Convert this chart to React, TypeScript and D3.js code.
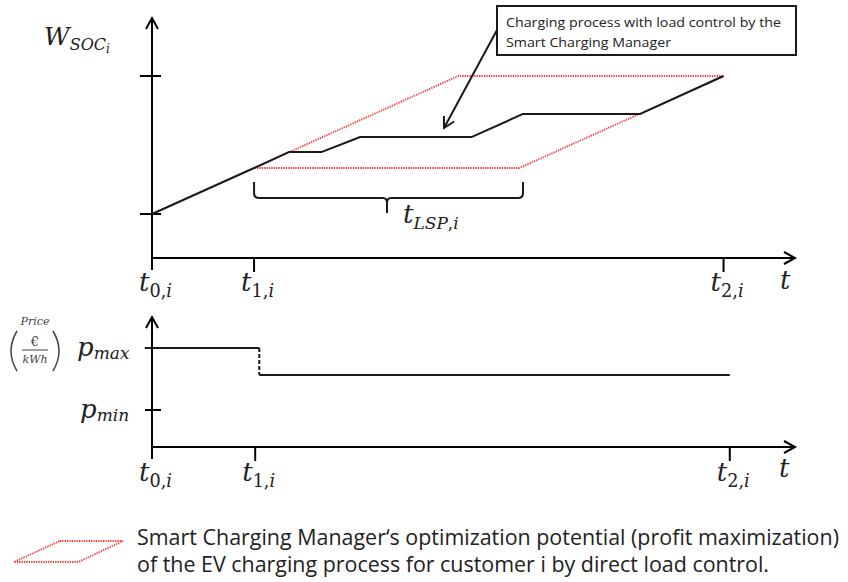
import React, { useEffect, useRef } from 'react';
import * as d3 from 'd3';

// time in hours, state of charge in %
const chargeTime = [0, 2, 2.69, 3.33, 4.08, 6.27, 7.27, 9.57, 11.2];
const chargeSoc = [20, 40, 47, 47, 53.5, 53.5, 63.5, 63.5, 80];

// optimization potential (parallelogram)
const potTime = [2, 6, 11.2, 7.2, 2];
const potSoc = [40, 80, 80, 40, 40];

const socTicks = [20, 80];
const timeTicks = [0, 2, 11.2];
const timeTickLabels = ['0,', '1,', '2,'];

// price in €/kWh
const priceHighTime = [-0.14, 2.08];
const priceHigh = [0.3, 0.3];
const priceLowTime = [2.08, 11.2];
const priceLow = [0.213, 0.213];
const priceTicks = [0.1, 0.3];

const legendLines = [
  'Smart Charging Manager‘s optimization potential (profit maximization)',
  'of the EV charging process for customer i by direct load control.',
];
const calloutLines = ['Charging process with load control by the', 'Smart Charging Manager'];

const MATH = '"DejaVu Serif", serif';
const SANS = '"Open Sans", sans-serif';
const RED = '#ff3030';

export default function App() {
  const svgRef = useRef<SVGSVGElement>(null);

  useEffect(() => {
    if (!svgRef.current) return;
    const svg = d3.select(svgRef.current);
    svg.selectAll('*').remove();

    const xTop = d3.scaleLinear().domain([0, 12.6]).range([152, 795]);
    const yTop = d3.scaleLinear().domain([0, 100]).range([260, 30]);
    const xBot = d3.scaleLinear().domain([0, 12.6]).range([152, 802]);
    const yBot = d3.scaleLinear().domain([0.1, 0.3]).range([410, 348]);

    const axisTopY = 258;
    const axisBotY = 447;

    const g = svg.append('g');

    const arrowHead = (x: number, y: number, dir: 'up' | 'right') => {
      const p = dir === 'up'
        ? `M${x - 6},${y + 11}L${x},${y}L${x + 6},${y + 11}`
        : `M${x - 11},${y - 6}L${x},${y}L${x - 11},${y + 6}`;
      g.append('path').attr('d', p).attr('fill', 'none').attr('stroke', '#000')
        .attr('stroke-width', 2);
    };

    const mathLabel = (x: number, y: number, main: string, sub: string, size = 26) => {
      const t = g.append('text').attr('x', x).attr('y', y)
        .attr('font-family', MATH).attr('font-size', size).attr('fill', '#222');
      t.append('tspan').attr('font-style', 'italic').text(main);
      if (sub) {
        const digits = sub.replace(/[a-z]+$/, '');
        const rest = sub.slice(digits.length);
        t.append('tspan').attr('dy', 6).attr('font-size', size * 0.68).text(digits);
        t.append('tspan').attr('font-size', size * 0.68).attr('font-style', 'italic').text(rest);
      }
      return t;
    };

    // ---------- upper chart ----------
    g.append('line').attr('x1', 152).attr('x2', 152).attr('y1', 18).attr('y2', axisTopY + 12)
      .attr('stroke', '#000').attr('stroke-width', 2);
    arrowHead(152, 18, 'up');
    g.append('line').attr('x1', 152).attr('x2', 795).attr('y1', axisTopY).attr('y2', axisTopY)
      .attr('stroke', '#000').attr('stroke-width', 2);
    arrowHead(795, axisTopY, 'right');

    socTicks.forEach(v => {
      g.append('line').attr('x1', 140).attr('x2', 161).attr('y1', yTop(v)).attr('y2', yTop(v))
        .attr('stroke', '#000').attr('stroke-width', 2);
    });
    timeTicks.slice(1).forEach(v => {
      g.append('line').attr('x1', xTop(v)).attr('x2', xTop(v)).attr('y1', axisTopY).attr('y2', axisTopY + 14)
        .attr('stroke', '#000').attr('stroke-width', 2);
    });
    timeTicks.forEach((v, i) => {
      mathLabel(xTop(v) - 13, 291, 't', timeTickLabels[i] + 'i');
    });
    mathLabel(780, 289, 't', '');

    // W_SOC_i label
    const w = g.append('text').attr('x', 44).attr('y', 45).attr('font-family', MATH)
      .attr('font-size', 25).attr('fill', '#222').attr('font-style', 'italic');
    w.append('tspan').text('W');
    w.append('tspan').attr('dy', 5).attr('font-size', 16).text('SOC');
    w.append('tspan').attr('dy', 3).attr('font-size', 12).text('i');

    const pts = (ts: number[], vs: number[]) => ts.map((t, i) => [t, vs[i]] as [number, number]);
    const lineTop = d3.line<[number, number]>().x(d => xTop(d[0])).y(d => yTop(d[1]));

    g.append('path').attr('d', lineTop(pts(potTime, potSoc)) as string).attr('fill', 'none')
      .attr('stroke', RED).attr('stroke-width', 1.8).attr('stroke-dasharray', '1.3,1.1');

    g.append('path').attr('d', lineTop(pts(chargeTime, chargeSoc)) as string).attr('fill', 'none')
      .attr('stroke', '#1a1a1a').attr('stroke-width', 2).attr('stroke-linejoin', 'round');

    // brace under parallelogram
    const bx0 = xTop(2), bx1 = xTop(7.27), bmid = 387;
    g.append('path')
      .attr('d', `M${bx0},182 V193 Q${bx0},198 ${bx0 + 5},198 H${bmid - 4} Q${bmid},198 ${bmid},203 V213 M${bmid},203 Q${bmid},198 ${bmid + 4},198 H${bx1 - 5} Q${bx1},198 ${bx1},193 V182`)
      .attr('fill', 'none').attr('stroke', '#1a1a1a').attr('stroke-width', 2);
    mathLabel(403, 223, 't', '').call(t => {
      t.append('tspan').attr('dy', 6).attr('font-size', 17).attr('font-style', 'italic').text('LSP');
      t.append('tspan').attr('font-size', 17).text(',');
      t.append('tspan').attr('font-size', 17).attr('font-style', 'italic').text('i');
    });

    // callout
    g.append('rect').attr('x', 497).attr('y', 6).attr('width', 299).attr('height', 49)
      .attr('fill', '#fff').attr('stroke', '#1a1a1a').attr('stroke-width', 2);
    calloutLines.forEach((l, i) => {
      g.append('text').attr('x', 506).attr('y', 27 + i * 20).attr('font-family', SANS)
        .attr('font-size', 13).attr('fill', '#222').text(l)
        .attr('textLength', i === 0 ? 275 : 165).attr('lengthAdjust', 'spacingAndGlyphs');
    });
    g.append('line').attr('x1', 497).attr('y1', 30).attr('x2', 444).attr('y2', 128)
      .attr('stroke', '#1a1a1a').attr('stroke-width', 2);
    const ang = Math.atan2(128 - 30, 444 - 497);
    const ah = (a: number) => `${444 - 12 * Math.cos(ang + a)},${128 - 12 * Math.sin(ang + a)}`;
    g.append('path').attr('d', `M${ah(0.5)}L444,128L${ah(-0.5)}`).attr('fill', 'none')
      .attr('stroke', '#1a1a1a').attr('stroke-width', 2);

    // ---------- lower chart ----------
    g.append('line').attr('x1', 152).attr('x2', 152).attr('y1', 317).attr('y2', axisBotY + 12)
      .attr('stroke', '#000').attr('stroke-width', 2);
    arrowHead(152, 317, 'up');
    g.append('line').attr('x1', 152).attr('x2', 795).attr('y1', axisBotY).attr('y2', axisBotY)
      .attr('stroke', '#000').attr('stroke-width', 2);
    arrowHead(795, axisBotY, 'right');

    priceTicks.forEach(v => {
      g.append('line').attr('x1', 145).attr('x2', 161).attr('y1', yBot(v)).attr('y2', yBot(v))
        .attr('stroke', '#000').attr('stroke-width', 2);
    });
    timeTicks.slice(1).forEach(v => {
      g.append('line').attr('x1', xBot(v)).attr('x2', xBot(v)).attr('y1', axisBotY).attr('y2', axisBotY + 14)
        .attr('stroke', '#000').attr('stroke-width', 2);
    });
    timeTicks.forEach((v, i) => {
      mathLabel(xBot(v) - 13, 481, 't', timeTickLabels[i] + 'i');
    });
    mathLabel(779, 477, 't', '');

    const lineBot = d3.line<[number, number]>().x(d => xBot(d[0])).y(d => yBot(d[1]));
    g.append('path').attr('d', lineBot(pts(priceHighTime, priceHigh)) as string)
      .attr('stroke', '#1a1a1a').attr('stroke-width', 2).attr('fill', 'none');
    g.append('path').attr('d', lineBot(pts(priceLowTime, priceLow)) as string)
      .attr('stroke', '#1a1a1a').attr('stroke-width', 2).attr('fill', 'none');
    g.append('line').attr('x1', xBot(2.08)).attr('x2', xBot(2.08))
      .attr('y1', yBot(0.3)).attr('y2', yBot(0.213))
      .attr('stroke', '#1a1a1a').attr('stroke-width', 2).attr('stroke-dasharray', '4,2');

    // p labels
    [['max', 0.3, 77], ['min', 0.1, 80]].forEach(([s, v, x]) => {
      const t = g.append('text').attr('x', x as number).attr('y', yBot(v as number) + 8)
        .attr('font-family', MATH).attr('font-size', 26).attr('font-style', 'italic').attr('fill', '#222');
      t.append('tspan').text('p');
      t.append('tspan').attr('dy', 3).attr('font-size', 17).text(s as string);
    });

    // Price unit
    g.append('text').attr('x', 35).attr('y', 325).attr('text-anchor', 'middle')
      .attr('font-family', MATH).attr('font-style', 'italic').attr('font-size', 11)
      .attr('fill', '#444').text('Price');
    g.append('text').attr('x', 35).attr('y', 346).attr('text-anchor', 'middle')
      .attr('font-family', MATH).attr('font-size', 13).attr('fill', '#444').text('€');
    g.append('line').attr('x1', 22).attr('x2', 48).attr('y1', 350).attr('y2', 350)
      .attr('stroke', '#444').attr('stroke-width', 1);
    g.append('text').attr('x', 35).attr('y', 363).attr('text-anchor', 'middle')
      .attr('font-family', MATH).attr('font-style', 'italic').attr('font-size', 11)
      .attr('fill', '#444').text('kWh');
    g.append('path').attr('d', 'M17,331 Q5,351 17,371').attr('fill', 'none').attr('stroke', '#444').attr('stroke-width', 1.5);
    g.append('path').attr('d', 'M53,331 Q65,351 53,371').attr('fill', 'none').attr('stroke', '#444').attr('stroke-width', 1.5);

    // ---------- legend ----------
    const xLeg = d3.scaleLinear().domain([0, 1]).range([14, 123]);
    const legPts: [number, number][] = [[0.42, 541], [1, 541], [0.59, 562], [0, 562], [0.42, 541]];
    g.append('path').attr('d', d3.line<[number, number]>().x(d => xLeg(d[0])).y(d => d[1])(legPts) as string)
      .attr('fill', 'none').attr('stroke', RED).attr('stroke-width', 1.8).attr('stroke-dasharray', '1.3,1.1');
    legendLines.forEach((l, i) => {
      g.append('text').attr('x', 137).attr('y', 545 + i * 27).attr('font-family', SANS)
        .attr('font-size', 21).attr('fill', '#222').text(l)
        .attr('textLength', i === 0 ? 702 : 632).attr('lengthAdjust', 'spacingAndGlyphs');
    });
  }, []);

  return (
    <svg ref={svgRef} width={848} height={582}
      style={{ position: 'absolute', left: 0, top: 0, background: '#fff' }} />
  );
}
